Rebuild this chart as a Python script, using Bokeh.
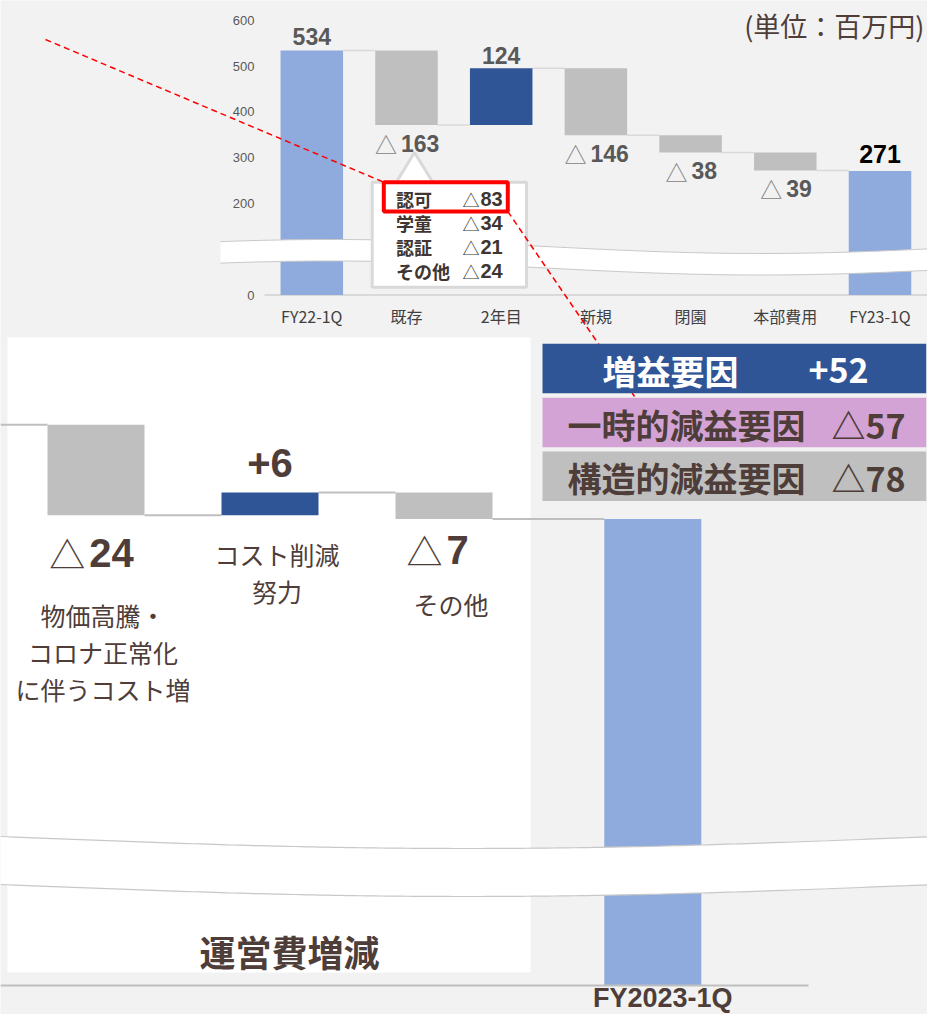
import numpy as np
from bokeh.plotting import figure
from bokeh.models import Range1d
from bokeh.core.properties import value
from bokeh.embed import file_html
from bokeh.resources import INLINE

# ---------------- data ----------------
TOP_CATS = ["FY22-1Q", "既存", "2年目", "新規", "閉園", "本部費用", "FY23-1Q"]
TOP_START = 534
TOP_DELTAS = [-163, 124, -146, -38, -39]
TOP_END = 271
TOP_TICKS = [0, 100, 200, 300, 400, 500, 600]

CALLOUT_NAMES = ["認可", "学童", "認証", "その他"]
CALLOUT_VALUES = [-83, -34, -21, -24]

BOT_CATS = ["物価高騰・\nコロナ正常化\nに伴うコスト増", "コスト削減\n努力", "その他"]
BOT_DELTAS = [-24, 6, -7]
BOT_END = 271
BOT_END_LABEL = "FY2023-1Q"

SUM_NAMES = ["増益要因", "一時的減益要因", "構造的減益要因"]
SUM_VALUES = [52, -57, -78]

UNIT_LABEL = "(単位：百万円)"
PANEL_TITLE = "運営費増減"

# ---------------- style ----------------
C_TOTAL = "#8faadc"
C_UP = "#2f5597"
C_DOWN = "#bfbfbf"
C_TXT = "#4e3d38"
C_GREY_TXT = "#595959"
BG = "#f2f2f2"
JP = value("Noto Sans CJK JP")
LAT = value("Liberation Sans")


def tri_num(v):
    return ("+" if v > 0 else "△"), str(abs(v))


# ---------------- canvas (pixel coordinates as default ranges) ----------------
W, H = 927, 1014
X0, Y0 = 0, 0
p = figure(width=W, height=H, x_range=Range1d(X0, X0 + W), y_range=Range1d(Y0 + H, Y0),
           output_backend="svg", toolbar_location=None, x_axis_type=None, y_axis_type=None,
           min_border=0, background_fill_color=BG, border_fill_color=BG,
           outline_line_color=None)

# top chart scales
TX0, TDX = 311.3, 94.7
TY0, TDY = 294.5, 0.458
p.extra_x_ranges["tx"] = Range1d(-(TX0 - X0) / TDX, (X0 + W - TX0) / TDX)
p.extra_y_ranges["ty"] = Range1d((TY0 - (Y0 + H)) / TDY, (TY0 - Y0) / TDY)

# bottom chart scales
BX0, BDX = 95.5, 174.0
BY_END_PX, BDY = 518.5, 3.77
p.extra_x_ranges["bx"] = Range1d(-(BX0 - X0) / BDX, (X0 + W - BX0) / BDX)
p.extra_y_ranges["by"] = Range1d(BOT_END - (Y0 + H - BY_END_PX) / BDY,
                                 BOT_END + (BY_END_PX - Y0) / BDY)
BOT_POS = [0, 1, 2, 3.2]
BOT_FLOOR = BOT_END - (985 - BY_END_PX) / BDY  # broken-axis floor


def t_dy(v, px):
    return v - px / TDY


def t_dx(i, px):
    return i + px / TDX


def b_dy(v, px):
    return v - px / BDY


def b_dx(i, px):
    return i + px / BDX


# ---------------- bottom white panel ----------------
p.quad(left=[7], right=[530], top=[337], bottom=[972], fill_color="white", line_color=None)

# ---------------- top waterfall ----------------
levels = [TOP_START]
for d in TOP_DELTAS:
    levels.append(levels[-1] + d)
n = len(TOP_CATS)
xs = list(range(n))
bw = 0.66
bottoms = [0] + [min(levels[i], levels[i + 1]) for i in range(len(TOP_DELTAS))] + [0]
tops = [TOP_START] + [max(levels[i], levels[i + 1]) for i in range(len(TOP_DELTAS))] + [TOP_END]
colors = [C_TOTAL] + [C_UP if d > 0 else C_DOWN for d in TOP_DELTAS] + [C_TOTAL]

# baseline
p.segment(x0=[264], x1=[927], y0=[0], y1=[0], line_color="#d9d9d9", line_width=2,
          y_range_name="ty")
# connectors
p.segment(x0=[i + bw / 2 for i in range(n - 1)], x1=[i + 1 - bw / 2 for i in range(n - 1)],
          y0=levels, y1=levels, line_color="#d9d9d9", line_width=1.5,
          x_range_name="tx", y_range_name="ty")
p.vbar(x=xs, width=bw, bottom=bottoms, top=tops, fill_color=colors, line_color=None,
       x_range_name="tx", y_range_name="ty")

# tick labels
p.text(x=[254] * len(TOP_TICKS), y=TOP_TICKS, text=[str(t) for t in TOP_TICKS],
       text_font=LAT, text_font_size="13px", text_color=C_GREY_TXT, text_align="right",
       text_baseline="middle", y_range_name="ty")
# category labels
p.text(x=xs, y=[t_dy(0, 21)] * n, text=TOP_CATS, text_font=JP, text_font_size="16px",
       text_color="#404040", text_align="center", text_baseline="middle",
       x_range_name="tx", y_range_name="ty")

# totals
p.text(x=[0], y=[t_dy(TOP_START, -14)], text=[str(TOP_START)], text_font=LAT,
       text_font_size="23px", text_font_style="bold", text_color=C_GREY_TXT,
       text_align="center", text_baseline="middle", x_range_name="tx", y_range_name="ty")
p.text(x=[n - 1], y=[t_dy(TOP_END, -17)], text=[str(TOP_END)], text_font=LAT,
       text_font_size="25px", text_font_style="bold", text_color="#000000",
       text_align="center", text_baseline="middle", x_range_name="tx", y_range_name="ty")

# delta labels
up_x, up_y, up_t = [], [], []
tri_x, tri_y, num_x, num_y, num_t = [], [], [], [], []
for k, d in enumerate(TOP_DELTAS):
    i = k + 1
    if d > 0:
        up_x.append(i)
        up_y.append(t_dy(tops[i], -13))
        up_t.append(str(d))
    else:
        s = str(-d)
        total = 22 + 4 + len(s) * 12.8
        tri_x.append(t_dx(i, -total / 2 + 0.7))
        num_x.append(t_dx(i, -total / 2 + 26.7))
        yy = t_dy(bottoms[i], 18)
        tri_y.append(yy)
        num_y.append(yy)
        num_t.append(s)
p.text(x=up_x, y=up_y, text=up_t, text_font=LAT, text_font_size="23px",
       text_font_style="bold", text_color=C_GREY_TXT, text_align="center",
       text_baseline="middle", x_range_name="tx", y_range_name="ty")
p.text(x=tri_x, y=tri_y, text=["△"] * len(tri_x), text_font=JP, text_font_size="22px",
       text_color="#7f7f7f", text_align="left", text_baseline="middle",
       x_range_name="tx", y_range_name="ty")
p.text(x=num_x, y=num_y, text=num_t, text_font=LAT, text_font_size="23px",
       text_font_style="bold", text_color=C_GREY_TXT, text_align="left",
       text_baseline="middle", x_range_name="tx", y_range_name="ty")

# top break band
bxs = np.linspace(220, 927, 140)
btop = 246 - 7 * np.cos(2 * np.pi * (bxs - 330) / 860)
bbot = btop + 21.5
p.patch(x=np.concatenate([bxs, bxs[::-1]]), y=np.concatenate([btop, bbot[::-1]]),
        fill_color="white", line_color=None)
p.line(x=bxs, y=btop, line_color="#c8c8c8", line_width=1)
p.line(x=bxs, y=bbot, line_color="#c8c8c8", line_width=1)

# callout box
p.quad(left=[371.7], right=[526], top=[181.7], bottom=[286.7], fill_color="white",
       line_color="#d9d9d9", line_width=3)
p.patch(x=[395, 414, 433], y=[183, 152, 183], fill_color="white", line_color="#d9d9d9",
        line_width=3)
p.quad(left=[389], right=[440], top=[180], bottom=[186], fill_color="white", line_color=None)
rows_y = [198.5 + 24 * k for k in range(len(CALLOUT_NAMES))]
p.text(x=[395.5] * len(CALLOUT_NAMES), y=rows_y, text=CALLOUT_NAMES, text_font=JP,
       text_font_size="18px", text_font_style="bold", text_color="#403530",
       text_align="left", text_baseline="middle")
p.text(x=[462] * len(CALLOUT_VALUES), y=rows_y, text=[tri_num(v)[0] for v in CALLOUT_VALUES],
       text_font=JP, text_font_size="17px", text_color="#403530", text_align="left",
       text_baseline="middle")
p.text(x=[480] * len(CALLOUT_VALUES), y=rows_y, text=[tri_num(v)[1] for v in CALLOUT_VALUES],
       text_font=LAT, text_font_size="20px", text_font_style="bold", text_color="#403530",
       text_align="left", text_baseline="middle")
p.quad(left=[383.3], right=[507.3], top=[181.7], bottom=[211], fill_color=None,
       line_color="#ff0000", line_width=4)

# ---------------- bottom waterfall ----------------
blev = [BOT_END - sum(BOT_DELTAS)]
for d in BOT_DELTAS:
    blev.append(blev[-1] + d)
bbw = 97 / BDX
m = len(BOT_DELTAS)
b_bottom = [min(blev[i], blev[i + 1]) for i in range(m)]
b_top = [max(blev[i], blev[i + 1]) for i in range(m)]
b_col = [C_UP if d > 0 else C_DOWN for d in BOT_DELTAS]

x_start = p.extra_x_ranges["bx"].start
seg_x0 = [x_start] + [BOT_POS[i] + bbw / 2 for i in range(m)]
seg_x1 = [BOT_POS[i] - bbw / 2 for i in range(m + 1)]
p.segment(x0=seg_x0, x1=seg_x1, y0=blev, y1=blev, line_color="#bfbfbf", line_width=2,
          x_range_name="bx", y_range_name="by")
p.vbar(x=BOT_POS[:m], width=bbw, bottom=b_bottom, top=b_top, fill_color=b_col,
       line_color=None, x_range_name="bx", y_range_name="by")
p.vbar(x=[BOT_POS[m]], width=bbw, bottom=[BOT_FLOOR], top=[BOT_END], fill_color=C_TOTAL,
       line_color=None, x_range_name="bx", y_range_name="by")
# baseline
p.segment(x0=[0], x1=[808], y0=[BOT_FLOOR], y1=[BOT_FLOOR], line_color="#bfbfbf",
          line_width=2, y_range_name="by")

# value labels
VAL_DY = [38, -30, 30.5]
VAL_DX = [-4.5, 0, -6.5]
for i, d in enumerate(BOT_DELTAS):
    ref = b_bottom[i] if d < 0 else b_top[i]
    yy = b_dy(ref, VAL_DY[i])
    sign, s = tri_num(d)
    if d > 0:
        p.text(x=[BOT_POS[i]], y=[yy], text=[sign + s], text_font=LAT, text_font_size="40px",
               text_font_style="bold", text_color=C_TXT, text_align="center",
               text_baseline="middle", x_range_name="bx", y_range_name="by")
    else:
        total = 36 + 4 + len(s) * 22.2
        p.text(x=[b_dx(BOT_POS[i], VAL_DX[i] - total / 2)], y=[yy], text=[sign],
               text_font=JP, text_font_size="36px", text_color=C_TXT, text_align="left",
               text_baseline="middle", x_range_name="bx", y_range_name="by")
        p.text(x=[b_dx(BOT_POS[i], VAL_DX[i] - total / 2 + 40)], y=[yy], text=[s],
               text_font=LAT, text_font_size="40px", text_font_style="bold",
               text_color=C_TXT, text_align="left", text_baseline="middle",
               x_range_name="bx", y_range_name="by")

# category labels
CAT_DY = [99.5, 38.5, 84.5]
cx, cy, ct = [], [], []
for i, name in enumerate(BOT_CATS):
    for j, line in enumerate(name.split("\n")):
        cx.append(b_dx(BOT_POS[i], 7))
        cy.append(b_dy(b_bottom[i], CAT_DY[i] + 37 * j))
        ct.append(line)
p.text(x=cx, y=cy, text=ct, text_font=JP, text_font_size="25px", text_color=C_TXT,
       text_align="center", text_baseline="middle", x_range_name="bx", y_range_name="by")

# bottom break band
kx = np.linspace(0, 927, 140)
ktop = 836 + 12 * np.sin(np.pi * kx / 935)
kbot = ktop + 48
p.patch(x=np.concatenate([kx, kx[::-1]]), y=np.concatenate([ktop, kbot[::-1]]),
        fill_color="white", line_color=None)
p.line(x=kx, y=ktop, line_color="#c8c8c8", line_width=1.2)
p.line(x=kx, y=kbot, line_color="#c8c8c8", line_width=1.2)

# red dashed leader lines
p.segment(x0=[45, 507.3], y0=[39, 211], x1=[383.3, 634], y1=[181.7, 396],
          line_color="#ff0000", line_width=1.5, line_dash="6 4")

# ---------------- summary boxes ----------------
SUM_FILL = [C_UP, "#d3a3d5", C_DOWN]
SUM_TXT = ["white", C_TXT, C_TXT]
box_top = [343.3, 397.3, 451]
box_h = 49.4
p.quad(left=[542] * 3, right=[925.7] * 3, top=box_top, bottom=[t + box_h for t in box_top],
       fill_color=SUM_FILL, line_color=None)
ymid = [t + box_h / 2 + 1.5 for t in box_top]
name_x = [670 if v > 0 else 686 for v in SUM_VALUES]
val_x = [838 if v > 0 else 868 for v in SUM_VALUES]
p.text(x=name_x, y=ymid, text=SUM_NAMES, text_font=JP, text_font_size="34px",
       text_font_style="bold", text_color=SUM_TXT, text_align="center",
       text_baseline="middle")
p.text(x=val_x, y=ymid, text=["".join(tri_num(v)) for v in SUM_VALUES], text_font=JP,
       text_font_size="34px", text_font_style="bold", text_color=SUM_TXT,
       text_align="center", text_baseline="middle")

# ---------------- titles ----------------
p.text(x=[b_dx(BOT_POS[m], 10)], y=[b_dy(BOT_FLOOR, 12)], text=[BOT_END_LABEL], text_font=LAT,
       text_font_size="27px", text_font_style="bold", text_color=C_TXT, text_align="center",
       text_baseline="middle", x_range_name="bx", y_range_name="by")
p.text(x=[289], y=[950], text=[PANEL_TITLE], text_font=JP, text_font_size="36px",
       text_font_style="bold", text_color=C_TXT, text_align="center", text_baseline="middle")
p.text(x=[924], y=[25], text=[UNIT_LABEL], text_font=JP, text_font_size="27px",
       text_color=C_TXT, text_align="right", text_baseline="middle")

open("out.html", "w").write(file_html(p, INLINE))
